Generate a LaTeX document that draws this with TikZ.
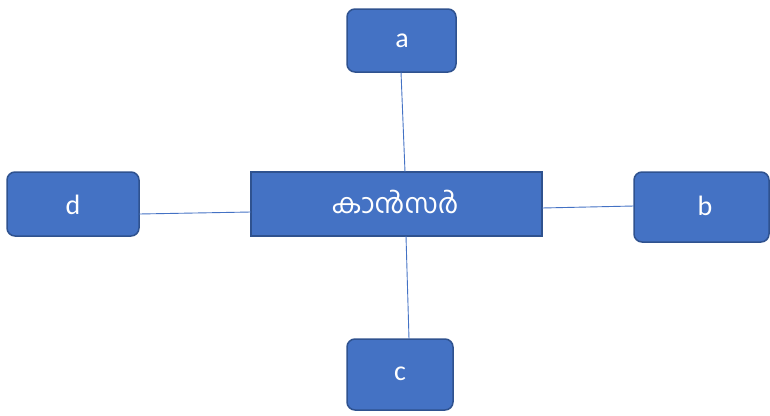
\documentclass[tikz,border=0pt]{standalone}
\usepackage{fontspec}
\setmainfont{Carlito}
\newfontfamily\malfont[Script=Malayalam]{Hind Kochi}
\definecolor{boxfill}{HTML}{4472C4}
\definecolor{boxdraw}{HTML}{2F528F}
\begin{document}
\begin{tikzpicture}[x=1pt,y=-1pt,
  rbox/.style={draw=boxdraw,fill=boxfill,line width=1.5pt,rounded corners=8pt},
  lbl/.style={text=white,font=\fontsize{28}{32}\selectfont},
  link/.style={draw=boxfill,line width=0.9pt}]
\useasboundingbox (0,0) rectangle (770,415);
\path[draw=boxdraw,fill=boxfill,line width=1.5pt] (251,172) rectangle (542,236);
\node[text=white,font=\malfont\fontsize{27.5}{32}\selectfont] (m) at (395,202) {കാൻസർ};
\coordinate (mt) at (405,172);
\coordinate (mb) at (406,236);
\coordinate (mr) at (542,208);
\coordinate (ml) at (251,212);
\path[rbox] (347,9) rectangle (456,72);
\node[lbl] (a) at (402,41) {a};
\path[rbox] (634,172) rectangle (769,242);
\node[lbl] (b) at (705,206) {b};
\path[rbox] (347,339) rectangle (453,410);
\node[lbl] (c) at (400,374) {c};
\path[rbox] (7,172) rectangle (139,236);
\node[lbl] (d) at (73,205) {d};
\coordinate (at) at (401,72);
\coordinate (bt) at (634,206);
\coordinate (ct) at (409,339);
\coordinate (dt) at (139,214);
\draw[link] (at) -- (mt);
\draw[link] (mb) -- (ct);
\draw[link] (mr) -- (bt);
\draw[link] (dt) -- (ml);
\end{tikzpicture}
\end{document}
